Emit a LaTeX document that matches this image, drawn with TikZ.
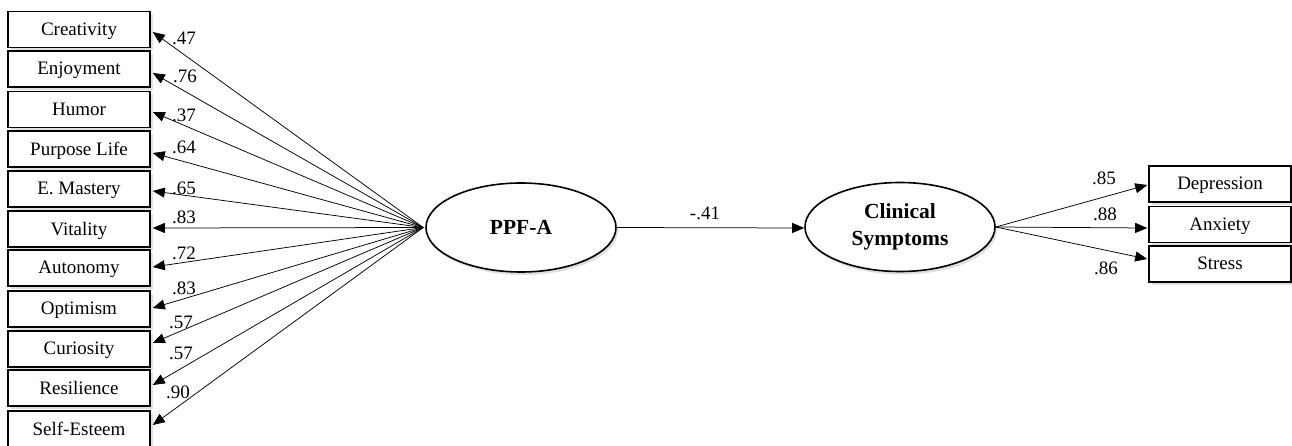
\documentclass[tikz,border=0pt]{standalone}
\usepackage{fontspec}
\setmainfont{Liberation Serif}
\usetikzlibrary{arrows.meta,shadows,calc,shapes.geometric}
\tikzset{
  ind/.style={draw=black, line width=1.6pt, fill=white, minimum width=142pt, minimum height=36pt, inner sep=0pt,
    font=\fontsize{19}{21}\selectfont, text depth=1pt,
    drop shadow={shadow xshift=3pt, shadow yshift=-3pt, opacity=0.25, fill=gray}},
  lat/.style={draw=black, ellipse, line width=1.6pt, fill=white, minimum width=190pt, minimum height=89pt, inner sep=0pt,
    font=\fontsize{21.5}{27}\selectfont\bfseries, align=center,
    drop shadow={shadow xshift=2pt, shadow yshift=-3pt, opacity=0.25, fill=gray}},
  arr/.style={-{Triangle[length=12pt,width=10pt]}, line width=0.75pt},
  coef/.style={font=\fontsize{19}{21}\selectfont, inner sep=0pt}
}
\begin{document}
\begin{tikzpicture}[x=1pt,y=-1pt]
\useasboundingbox (0,0) rectangle (1292,446);
% left indicators
\node[ind] (cre) at (79,29.5) {Creativity};
\node[ind] (enj) at (79,69) {Enjoyment};
\node[ind] (hum) at (79,109.5) {Humor};
\node[ind] (pur) at (79,149) {Purpose Life};
\node[ind] (mas) at (79,189) {E. Mastery};
\node[ind] (vit) at (79,229) {Vitality};
\node[ind] (aut) at (79,268) {Autonomy};
\node[ind] (opt) at (79,309) {Optimism};
\node[ind] (cur) at (79,349) {Curiosity};
\node[ind] (res) at (79,388) {Resilience};
\node[ind] (sel) at (79,429) {Self-Esteem};
% latent variables
\node[lat] (ppf) at (521,227.5) {PPF-A};
\node[lat] (cli) at (900,227) {Clinical\\Symptoms};
% right indicators
\node[ind] (dep) at (1220,184) {Depression};
\node[ind] (anx) at (1220,224.5) {Anxiety};
\node[ind] (str) at (1220,264) {Stress};
% loadings PPF-A
\coordinate (src) at ($(ppf.west)+(-2,0)$);
\draw[arr] (src) -- ($(cre.east)+(2,2.5)$);
\draw[arr] (src) -- ($(enj.east)+(2,4)$);
\draw[arr] (src) -- ($(hum.east)+(2,2.5)$);
\draw[arr] (src) -- ($(pur.east)+(2,4)$);
\draw[arr] (src) -- ($(mas.east)+(2,2)$);
\draw[arr] (src) -- ($(vit.east)+(2,-1)$);
\draw[arr] (src) -- ($(aut.east)+(2,-1)$);
\draw[arr] (src) -- ($(opt.east)+(2,-1)$);
\draw[arr] (src) -- ($(cur.east)+(2,-6)$);
\draw[arr] (src) -- ($(res.east)+(2,-3)$);
\draw[arr] (src) -- ($(sel.east)+(2,-4)$);
\node[coef] (l1) at (184,38) {.47};
\node[coef] (l2) at (185,76) {.76};
\node[coef] (l3) at (184,115) {.37};
\node[coef] (l4) at (184,147) {.64};
\node[coef] (l5) at (184,188) {.65};
\node[coef] (l6) at (184,217) {.83};
\node[coef] (l7) at (184,253) {.72};
\node[coef] (l8) at (184,288) {.83};
\node[coef] (l9) at (181,322) {.57};
\node[coef] (l10) at (181,353) {.57};
\node[coef] (l11) at (178,392) {.90};
% structural path
\draw[arr] (ppf.east) -- ($(cli.west)+(0,1)$);
\node[coef] (b1) at (705,213) {-.41};
% loadings clinical
\draw[arr] (cli.east) -- ($(dep.west)+(-1,1)$);
\draw[arr] (cli.east) -- ($(anx.west)+(-1,3.5)$);
\draw[arr] (cli.east) -- ($(str.west)+(-1,-5)$);
\node[coef] (r1) at (1104,178) {.85};
\node[coef] (r2) at (1105,214) {.88};
\node[coef] (r3) at (1106,268) {.86};
\end{tikzpicture}
\end{document}
